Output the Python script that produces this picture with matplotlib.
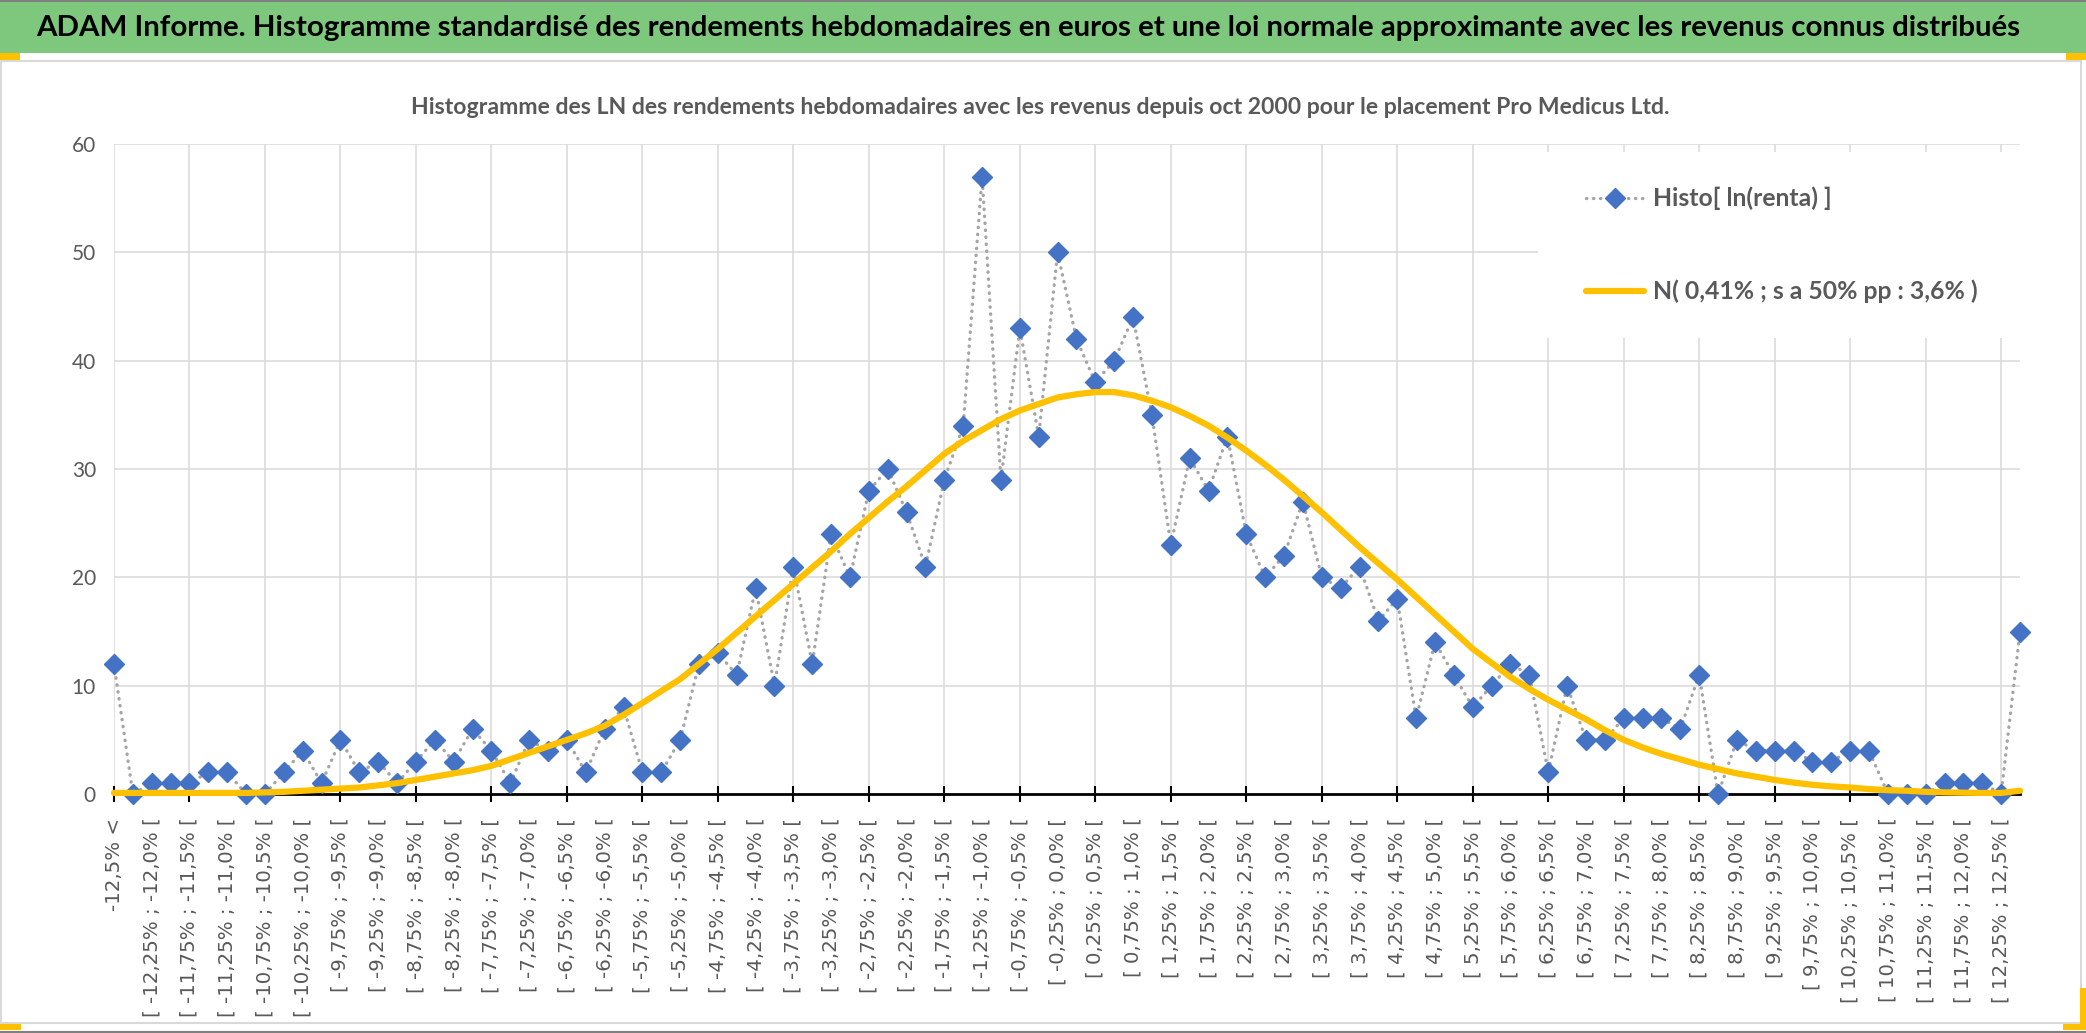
import matplotlib
matplotlib.use("Agg")
import matplotlib.pyplot as plt
from matplotlib.patches import Rectangle
from matplotlib.lines import Line2D

# effectifs par classe (0 = "-12,5% <", 1..100 = classes de 0,25%, 101 = queue droite)
hist_counts = [12, 0, 1, 1, 1, 2, 2, 0, 0, 2, 4, 1, 5, 2, 3, 1, 3, 5, 3, 6,
               4, 1, 5, 4, 5, 2, 6, 8, 2, 2, 5, 12, 13, 11, 19, 10, 21, 12, 24, 20,
               28, 30, 26, 21, 29, 34, 57, 29, 43, 33, 50, 42, 38, 40, 44, 35, 23, 31, 28, 33,
               24, 20, 22, 27, 20, 19, 21, 16, 18, 7, 14, 11, 8, 10, 12, 11, 2, 10, 5, 5,
               7, 7, 7, 6, 11, 0, 5, 4, 4, 4, 3, 3, 4, 4, 0, 0, 0, 1, 1, 1,
               0, 15]

# loi normale
normal_curve = [0.1, 0.1, 0.1, 0.1, 0.1, 0.1, 0.1, 0.1, 0.15, 0.2, 0.3, 0.4, 0.5, 0.6, 0.8, 1.0, 1.3, 1.6, 1.9, 2.2,
                2.6, 3.2, 3.8, 4.4, 5.0, 5.6, 6.3, 7.3, 8.4, 9.5, 10.6, 12.0, 13.4, 14.9, 16.4, 17.9, 19.4, 20.9, 22.4, 24.0,
                25.5, 27.0, 28.4, 29.9, 31.4, 32.6, 33.6, 34.6, 35.4, 36.0, 36.6, 36.9, 37.1, 37.1, 36.8, 36.3, 35.7, 34.9, 34.0, 32.9,
                31.7, 30.4, 29.0, 27.5, 26.0, 24.4, 22.8, 21.3, 19.8, 18.2, 16.6, 15.0, 13.4, 12.1, 10.8, 9.7, 8.7, 7.8, 6.9, 5.9,
                5.0, 4.3, 3.7, 3.2, 2.7, 2.3, 1.9, 1.6, 1.3, 1.05, 0.85, 0.7, 0.6, 0.45, 0.35, 0.3, 0.2, 0.15, 0.12, 0.1,
                0.1, 0.3]

# bornes des classes en %
bin_low = [-12.5 + 0.25 * (k - 1) for k in range(1, 101)]
bin_high = [-12.5 + 0.25 * k for k in range(1, 101)]


def pct(v, nd):
    return f"{v:.{nd}f}".replace(".", ",") + "%"


cat_labels = ["-12,5% <"] + ["[ %s ; %s [" % (pct(lo, 2), pct(hi, 1)) for lo, hi in zip(bin_low, bin_high)] + ["12,5% <="]

header = ("ADAM Informe. Histogramme standardisé des rendements hebdomadaires en euros "
          "et une loi normale approximante avec les revenus connus distribués")
subtitle = ("Histogramme des LN des rendements hebdomadaires avec les revenus depuis oct 2000 "
            "pour le placement Pro Medicus Ltd.")
leg_labels = ["Histo[ ln(renta) ]", "N( 0,41% ; s a 50% pp : 3,6% )"]

W, H = 2086, 1033
narrow = ["Lato", "DejaVu Sans"]
grey = "#595959"

fig = plt.figure(figsize=(W / 100, H / 100), dpi=100)
fig.patch.set_facecolor("white")


def fx(x):
    return x / W


def fy(y):
    return 1 - y / H


# cadre / bandeau
fig.add_artist(Rectangle((0, fy(53)), 1, 51 / H, transform=fig.transFigure,
                         fc="#7dc87d", ec="none"))
fig.add_artist(Rectangle((fx(1), fy(1023)), fx(2080), 962 / H, transform=fig.transFigure,
                         fc="none", ec="#d9d9d9", lw=1.5))
fig.add_artist(Line2D([0, 1], [fy(1), fy(1)], transform=fig.transFigure, color="#7f7f7f", lw=1.5))
fig.add_artist(Line2D([0, 1], [fy(1032), fy(1032)], transform=fig.transFigure, color="#7f7f7f", lw=1.5))
for (x0, y0, w, h) in [(0, 53, 20, 7), (2066, 53, 20, 7), (0, 1024, 21, 6),
                       (2080, 988, 6, 42), (2063, 1024, 23, 6)]:
    fig.add_artist(Rectangle((fx(x0), fy(y0 + h)), w / W, h / H, transform=fig.transFigure,
                             fc="#ffc000", ec="none"))

r = fig.canvas.get_renderer()


def fit(t, target):
    w = t.get_window_extent(r).width
    t.set_fontsize(t.get_fontsize() * target / w)


t1 = fig.text(fx(1028), fy(28), header, ha="center", va="center", fontsize=20,
              fontweight="bold", family=narrow, color="black")
fit(t1, 1990)
t2 = fig.text(fx(1040), fy(107), subtitle, ha="center", va="center", fontsize=14,
              fontweight="bold", family=narrow, color=grey)
fit(t2, 1268)

ax = fig.add_axes([fx(114), fy(794), 1906 / W, 650 / H])
x = list(range(len(hist_counts)))

l1, = ax.plot(x, hist_counts, color="#a5a5a5", lw=2.4, ls=(0, (0.1, 2.0)),
              dash_capstyle="round", marker="D", ms=10, mfc="#4472c4", mec="#4472c4",
              clip_on=False, zorder=3, label=leg_labels[0])
l2, = ax.plot(x, normal_curve, color="#ffc000", lw=4.5, solid_capstyle="round",
              clip_on=False, zorder=4, label=leg_labels[1])

ax.set_xlim(0, len(hist_counts) - 1)
ax.set_ylim(0, 60)
for s in ["top", "right", "left"]:
    ax.spines[s].set_visible(False)
ax.spines["bottom"].set_color("black")
ax.spines["bottom"].set_linewidth(2)

ax.set_yticks(range(0, 61, 10))
ax.tick_params(axis="y", length=0, pad=13, labelsize=15, labelcolor=grey)
for lab in ax.get_yticklabels():
    lab.set_family(narrow)

major = list(range(0, 101, 4))
minor = list(range(2, 101, 4))
ax.set_xticks(major, [cat_labels[i] for i in major], rotation=90)
ax.set_xticks(minor, [cat_labels[i] for i in minor], minor=True, rotation=90)
ax.tick_params(axis="x", which="major", direction="inout", length=11, width=1.5,
               color="black", pad=11.5, labelsize=14.2, labelcolor=grey)
ax.tick_params(axis="x", which="minor", length=0, pad=17, labelsize=14.2, labelcolor=grey)

ax.grid(True, which="major", color="#d9d9d9", lw=1.1)
ax.set_axisbelow(True)

# zone blanche de la légende
ax.add_patch(Rectangle((0.747, 0.7015), 0.253, 0.2862, transform=ax.transAxes,
                       fc="white", ec="none", zorder=1))

# taille de police de la légende ajustée sur la largeur du libellé le plus long
tmp = fig.text(0, 0, leg_labels[1], fontsize=20, fontweight="bold", family=narrow)
ext = tmp.get_window_extent(r)
leg_size = 20 * 325 / ext.width
h_px = ext.height * leg_size / 20
tmp.remove()
size_px = leg_size * 100 / 72
top_px = 199 - h_px / 2
leg = ax.legend(handles=[l1, l2], loc="upper left",
                bbox_to_anchor=((1586 - 114) / 1906, (794 - top_px) / 650),
                frameon=False, borderpad=0, borderaxespad=0, handlelength=58 / size_px,
                handletextpad=9 / size_px, labelspacing=(94 - h_px) / size_px,
                prop={"family": narrow, "weight": "bold", "size": leg_size}, labelcolor=grey)

fig.savefig("out.png", dpi=100)
